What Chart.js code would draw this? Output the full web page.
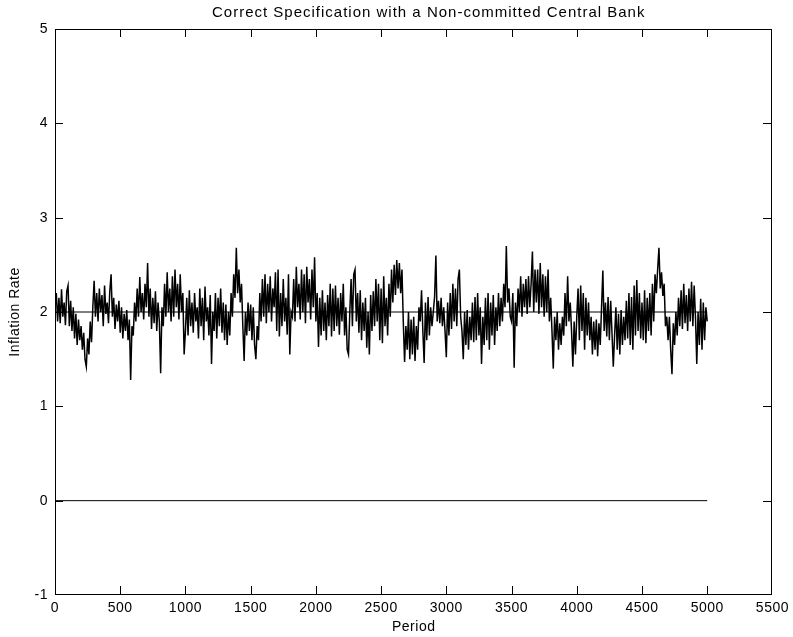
<!DOCTYPE html>
<html>
<head>
<meta charset="utf-8">
<title>Inflation Rate</title>
<script src="https://cdn.jsdelivr.net/npm/chart.js@4/dist/chart.umd.min.js"></script>
<style>
  html, body { margin: 0; padding: 0; background: #fff; }
  #wrap { width: 793px; height: 637px; }
</style>
</head>
<body>
<div id="wrap"><canvas id="chart" width="793" height="637"></canvas></div>
<script>
// === DATA ===
const chartTitle = "Correct Specification with a Non-committed Central Bank";
const xLabel = "Period";
const yLabel = "Inflation Rate";

const periodStep = 10; // one reading every 10 periods
const inflation = [
  2.05, 2.20, 1.90, 2.15, 1.88, 2.24, 1.95, 2.10, 1.86, 2.22, // 0
  2.28, 1.85, 2.12, 1.80, 2.05, 1.72, 1.98, 1.65, 1.92, 1.70,
  1.85, 1.60, 1.78, 1.50, 1.42, 1.72, 1.55, 1.90, 1.68, 2.05,
  2.33, 1.95, 2.20, 1.90, 2.25, 2.00, 2.18, 1.85, 2.28, 1.98,
  2.10, 1.88, 2.22, 2.40, 1.95, 2.15, 1.82, 2.08, 1.90, 2.12,
  1.78, 2.05, 1.72, 1.98, 1.80, 2.02, 1.70, 1.92, 1.28, 1.85, // 500
  1.75, 2.10, 1.90, 2.25, 1.95, 2.37, 2.00, 2.20, 1.92, 2.30,
  2.05, 2.52, 1.95, 2.25, 1.82, 2.15, 1.88, 2.22, 1.80, 2.10,
  1.90, 1.35, 2.05, 1.85, 2.30, 1.95, 2.42, 2.00, 2.25, 1.90,
  2.38, 1.95, 2.45, 2.05, 2.30, 1.92, 2.40, 2.00, 2.20, 1.55,
  1.80, 2.15, 1.75, 2.23, 1.85, 2.10, 1.78, 2.20, 1.90, 2.05, // 1000
  1.72, 2.25, 1.85, 2.15, 1.70, 2.27, 1.90, 2.05, 1.75, 2.18,
  1.45, 2.00, 1.80, 2.20, 1.72, 2.15, 1.85, 2.25, 1.78, 2.10,
  1.70, 2.08, 1.65, 2.00, 1.75, 2.20, 1.95, 2.40, 2.15, 2.68,
  2.20, 2.45, 2.10, 2.30, 1.85, 1.48, 2.00, 1.75, 2.10, 1.80,
  2.08, 1.70, 2.05, 1.65, 1.50, 1.85, 1.70, 2.20, 1.90, 2.35, // 1500
  1.95, 2.40, 1.88, 2.30, 2.00, 2.38, 1.90, 2.25, 2.05, 2.42,
  1.80, 2.45, 1.74, 2.20, 1.85, 2.35, 1.90, 2.15, 1.76, 2.40,
  1.55, 2.00, 1.95, 2.35, 1.90, 2.48, 2.05, 2.30, 1.92, 2.45,
  2.00, 2.40, 1.88, 2.48, 2.10, 2.35, 1.92, 2.45, 2.05, 2.58,
  1.90, 2.20, 1.63, 2.15, 1.75, 2.23, 1.80, 2.10, 1.70, 2.18, // 2000
  1.85, 2.30, 1.74, 2.25, 1.80, 2.28, 1.85, 2.15, 1.76, 2.20,
  1.90, 2.30, 1.75, 2.05, 1.60, 1.55, 2.00, 2.35, 1.85, 2.40,
  2.45, 1.90, 2.20, 1.78, 2.23, 1.70, 2.10, 1.80, 2.15, 1.62,
  2.00, 1.55, 2.18, 1.80, 2.22, 1.85, 2.35, 1.90, 2.30, 1.70,
  2.25, 1.67, 2.38, 1.85, 2.15, 1.75, 2.30, 1.95, 2.45, 2.10, // 2500
  2.50, 2.18, 2.55, 2.25, 2.52, 2.20, 2.45, 1.90, 1.47, 1.85,
  1.60, 2.00, 1.50, 1.92, 1.55, 1.95, 1.48, 1.85, 1.60, 2.05,
  1.90, 2.23, 1.80, 1.46, 2.10, 1.70, 2.16, 1.75, 2.05, 1.85,
  2.00, 2.16, 2.60, 1.90, 2.12, 1.88, 2.15, 1.85, 2.05, 1.80,
  1.52, 2.10, 1.75, 2.20, 1.82, 2.30, 1.90, 2.25, 1.85, 2.35, // 3000
  2.45, 1.95, 1.80, 1.50, 2.00, 1.65, 2.02, 1.60, 1.95, 1.70,
  2.10, 1.68, 2.16, 1.70, 2.20, 1.75, 2.05, 1.45, 1.95, 1.65,
  2.15, 1.70, 2.20, 1.60, 2.10, 1.75, 2.18, 1.65, 2.05, 1.80,
  2.20, 1.85, 2.15, 1.90, 2.30, 2.05, 2.70, 2.10, 2.25, 1.95,
  1.90, 2.20, 1.41, 2.10, 1.85, 2.25, 2.00, 2.38, 1.95, 2.30, // 3500
  2.05, 2.35, 1.98, 2.38, 2.05, 2.30, 2.64, 2.00, 2.45, 2.10,
  2.45, 1.98, 2.52, 2.05, 2.40, 1.95, 2.38, 2.00, 2.45, 1.90,
  2.15, 1.80, 1.40, 1.95, 1.70, 2.00, 1.60, 1.88, 1.65, 1.95,
  1.75, 2.20, 1.85, 2.38, 1.90, 2.10, 1.80, 1.42, 1.90, 1.55,
  1.95, 2.25, 1.70, 2.28, 1.80, 2.20, 1.60, 2.15, 1.75, 2.10, // 4000
  1.70, 1.95, 1.55, 1.90, 1.60, 1.92, 1.53, 1.88, 1.65, 2.05,
  2.44, 1.80, 2.10, 1.74, 2.16, 1.70, 2.12, 1.78, 1.42, 1.75,
  2.05, 1.60, 1.98, 1.55, 2.02, 1.65, 1.95, 1.70, 2.12, 1.72,
  2.20, 1.65, 2.16, 1.60, 2.28, 1.75, 2.34, 1.80, 2.20, 1.72,
  2.10, 1.70, 2.23, 1.67, 2.15, 1.80, 2.20, 1.75, 2.30, 1.90, // 4500
  2.40, 2.20, 2.45, 2.68, 2.25, 2.42, 2.17, 2.30, 1.85, 1.95,
  1.70, 1.95, 1.60, 1.34, 1.88, 1.65, 2.00, 1.75, 2.15, 1.85,
  2.23, 1.82, 2.30, 1.88, 2.18, 1.80, 2.25, 1.90, 2.32, 1.85,
  2.28, 1.95, 1.45, 2.00, 1.65, 2.14, 1.60, 2.10, 1.70, 2.05,
  1.90 // 5000
];

const targetRate = 2;
const zeroRate = 0;
const lineStart = 0;
const lineEnd = 5000;

const xTicks = [0, 500, 1000, 1500, 2000, 2500, 3000, 3500, 4000, 4500, 5000, 5500];
const yTicks = [-1, 0, 1, 2, 3, 4, 5];

// === STYLE ===
const fontFamily = "'Liberation Sans', Arial, Helvetica, sans-serif";
const tickFont = { family: fontFamily, size: 14 };
const tickLen = 8;

// box round the plot + inward ticks on all four sides, matlab style
const boxPlugin = {
  id: "box",
  beforeDraw(chart) {
    chart.ctx.letterSpacing = "0.5px";
  },
  afterDraw(chart) {
    const { ctx, chartArea: a, scales } = chart;
    const L = Math.round(a.left), T = Math.round(a.top);
    const R = Math.round(a.right) - 1, B = Math.round(a.bottom) - 1;
    ctx.save();
    ctx.fillStyle = "#000";
    // frame
    ctx.fillRect(L, T, R - L + 1, 1);
    ctx.fillRect(L, B, R - L + 1, 1);
    ctx.fillRect(L, T, 1, B - T + 1);
    ctx.fillRect(R, T, 1, B - T + 1);
    // ticks
    xTicks.forEach((v) => {
      const x = Math.round(scales.x.getPixelForValue(v));
      const px = Math.min(Math.max(x, L), R);
      ctx.fillRect(px, B - tickLen, 1, tickLen);
      ctx.fillRect(px, T, 1, tickLen);
    });
    yTicks.forEach((v) => {
      const y = Math.round(scales.y.getPixelForValue(v));
      const py = Math.min(Math.max(y, T), B);
      ctx.fillRect(L, py, tickLen, 1);
      ctx.fillRect(R - tickLen, py, tickLen, 1);
    });

    // title centred over the axes
    ctx.letterSpacing = "1px";
    ctx.font = "15px " + fontFamily;
    ctx.textAlign = "center";
    ctx.textBaseline = "middle";
    ctx.fillText(chartTitle, (a.left + a.right) / 2 + 15, 13);
    ctx.restore();
  },
};

const seriesPoints = inflation.map((v, i) => ({ x: i * periodStep, y: v }));

new Chart(document.getElementById("chart"), {
  type: "line",
  data: {
    datasets: [
      { label: "Inflation", data: seriesPoints, borderColor: "#000", borderWidth: 1.5, pointRadius: 0, tension: 0 },
      { label: "Target", data: [{ x: lineStart, y: targetRate }, { x: lineEnd, y: targetRate }], borderColor: "#000", borderWidth: 1, pointRadius: 0 },
      { label: "Zero", data: [{ x: lineStart, y: zeroRate }, { x: lineEnd, y: zeroRate }], borderColor: "#000", borderWidth: 1, pointRadius: 0 },
    ],
  },
  options: {
    responsive: false,
    animation: false,
    layout: { padding: { top: 29, right: 20, left: 0, bottom: 0 } },
    plugins: { legend: { display: false }, tooltip: { enabled: false }, title: { display: false } },
    scales: {
      x: {
        type: "linear",
        min: 0,
        max: 5500,
        afterBuildTicks: (s) => { s.ticks = xTicks.map((v) => ({ value: v })); },
        afterFit: (s) => { s.height = 42; },
        grid: { display: false, drawTicks: false },
        border: { display: false },
        ticks: { color: "#000", font: tickFont, padding: 5, maxRotation: 0, autoSkip: false, callback: (v) => String(v) },
        title: { display: true, text: xLabel, color: "#000", font: tickFont, padding: { top: 0, bottom: 1 } },
      },
      y: {
        type: "linear",
        min: -1,
        max: 5,
        afterBuildTicks: (s) => { s.ticks = yTicks.map((v) => ({ value: v })); },
        afterFit: (s) => { s.width = 55; },
        grid: { display: false, drawTicks: false },
        border: { display: false },
        ticks: { color: "#000", font: tickFont, padding: 7, callback: (v) => String(v) },
        title: { display: true, text: yLabel, color: "#000", font: tickFont, padding: { top: 7, bottom: 0 } },
      },
    },
  },
  plugins: [boxPlugin],
});
</script>
</body>
</html>
